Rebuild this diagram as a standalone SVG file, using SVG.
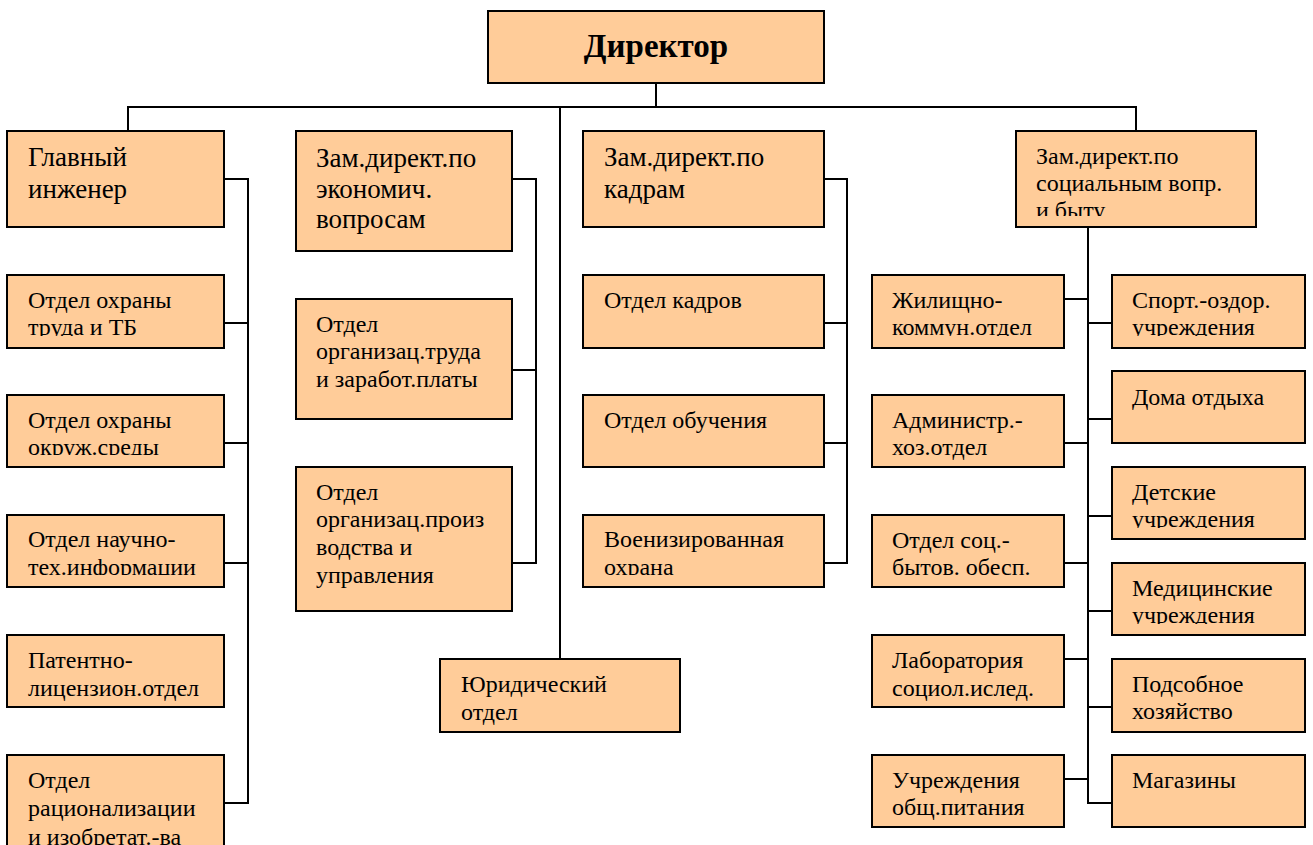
<svg xmlns="http://www.w3.org/2000/svg" width="1313" height="845" viewBox="0 0 1313 845">
  <style>
    .box { fill: #FFCC99; stroke: #000; stroke-width: 2; }
    .t { font-family: "Liberation Serif", "Times New Roman", serif; font-size: 24px; fill: #000; }
    .big { font-size: 27px; }
    .title { font-family: "Liberation Serif", "Times New Roman", serif; font-size: 33px; font-weight: bold; fill: #000; }
    .ln { fill: none; stroke: #000; stroke-width: 2; }
  </style>
  <defs>
    <clipPath id="c-okr"><rect x="7" y="395" width="217" height="60"/></clipPath>
    <clipPath id="c-trud"><rect x="7" y="275" width="217" height="61"/></clipPath>
    <clipPath id="c-nti"><rect x="7" y="515" width="217" height="60"/></clipPath>
    <clipPath id="c-voen"><rect x="583" y="515" width="241" height="60"/></clipPath>
    <clipPath id="c-soc"><rect x="1016" y="131" width="240" height="85"/></clipPath>
    <clipPath id="c-zhk"><rect x="872" y="275" width="192" height="61"/></clipPath>
    <clipPath id="c-sport"><rect x="1112" y="275" width="193" height="61"/></clipPath>
    <clipPath id="c-det"><rect x="1112" y="467" width="193" height="61"/></clipPath>
    <clipPath id="c-med"><rect x="1112" y="563" width="193" height="61"/></clipPath>
  </defs>
  <rect width="1313" height="845" fill="#fff"/>

  <!-- connectors -->
  <g id="connectors" class="ln">
    <!-- director to top bus -->
    <polyline points="656,83 656,107"/>
    <polyline points="128,131 128,107 1136,107 1136,131"/>
    <polyline points="560,107 560,659"/>
    <!-- chief engineer branch -->
    <polyline points="224,179 248,179 248,803 224,803"/>
    <line x1="224" y1="323" x2="248" y2="323"/>
    <line x1="224" y1="443" x2="248" y2="443"/>
    <line x1="224" y1="563" x2="248" y2="563"/>
    <!-- economics branch -->
    <polyline points="512,179 536,179 536,563 512,563"/>
    <line x1="512" y1="370" x2="536" y2="370"/>
    <!-- personnel branch -->
    <polyline points="824,179 847,179 847,563 824,563"/>
    <line x1="824" y1="323" x2="847" y2="323"/>
    <line x1="824" y1="443" x2="847" y2="443"/>
    <!-- social branch -->
    <polyline points="1088,227 1088,803 1112,803"/>
    <line x1="1064" y1="299" x2="1088" y2="299"/>
    <line x1="1064" y1="443" x2="1088" y2="443"/>
    <line x1="1064" y1="563" x2="1088" y2="563"/>
    <line x1="1064" y1="659" x2="1088" y2="659"/>
    <line x1="1064" y1="779" x2="1088" y2="779"/>
    <line x1="1088" y1="323" x2="1112" y2="323"/>
    <line x1="1088" y1="419" x2="1112" y2="419"/>
    <line x1="1088" y1="516" x2="1112" y2="516"/>
    <line x1="1088" y1="611" x2="1112" y2="611"/>
    <line x1="1088" y1="707" x2="1112" y2="707"/>
  </g>

  <g id="director">
    <rect class="box" x="488" y="11" width="336" height="72"/>
    <text class="title" x="656" y="57" text-anchor="middle">Директор</text>
  </g>

  <!-- chief engineer column -->
  <g id="chief-engineer">
    <rect class="box" x="7" y="131" width="217" height="96"/>
    <text class="t big" x="28" y="166">Главный</text>
    <text class="t big" x="28" y="198">инженер</text>
  </g>
  <g id="labour-safety">
    <rect class="box" x="7" y="275" width="217" height="73"/>
    <g clip-path="url(#c-trud)">
      <text class="t" x="28" y="308">Отдел охраны</text>
      <text class="t" x="28" y="335">труда и ТБ</text>
    </g>
  </g>
  <g id="environment">
    <rect class="box" x="7" y="395" width="217" height="72"/>
    <g clip-path="url(#c-okr)">
      <text class="t" x="28" y="428">Отдел охраны</text>
      <text class="t" x="28" y="455">окруж.среды</text>
    </g>
  </g>
  <g id="sci-tech-info">
    <rect class="box" x="7" y="515" width="217" height="72"/>
    <g clip-path="url(#c-nti)">
      <text class="t" x="28" y="547">Отдел научно-</text>
      <text class="t" x="28" y="575">тех.информации</text>
    </g>
  </g>
  <g id="patent">
    <rect class="box" x="7" y="635" width="217" height="72"/>
    <text class="t" x="28" y="668">Патентно-</text>
    <text class="t" x="28" y="696">лицензион.отдел</text>
  </g>
  <g id="rationalization">
    <rect class="box" x="7" y="755" width="217" height="100"/>
    <text class="t" x="28" y="788">Отдел</text>
    <text class="t" x="28" y="816">рационализации</text>
    <text class="t" x="28" y="845">и изобретат.-ва</text>
  </g>

  <!-- economics column -->
  <g id="deputy-economics">
    <rect class="box" x="296" y="131" width="216" height="120"/>
    <text class="t big" x="316" y="167">Зам.директ.по</text>
    <text class="t big" x="316" y="198">экономич.</text>
    <text class="t big" x="316" y="228">вопросам</text>
  </g>
  <g id="labour-wages">
    <rect class="box" x="296" y="299" width="216" height="120"/>
    <text class="t" x="316" y="332">Отдел</text>
    <text class="t" x="316" y="359">организац.труда</text>
    <text class="t" x="316" y="387">и заработ.платы</text>
  </g>
  <g id="production-org">
    <rect class="box" x="296" y="467" width="216" height="144"/>
    <text class="t" x="316" y="500">Отдел</text>
    <text class="t" x="316" y="527">организац.произ</text>
    <text class="t" x="316" y="555">водства и</text>
    <text class="t" x="316" y="583">управления</text>
  </g>

  <g id="legal">
    <rect class="box" x="440" y="659" width="240" height="73"/>
    <text class="t" x="461" y="692">Юридический</text>
    <text class="t" x="461" y="720">отдел</text>
  </g>

  <!-- personnel column -->
  <g id="deputy-personnel">
    <rect class="box" x="583" y="131" width="241" height="96"/>
    <text class="t big" x="604" y="166">Зам.директ.по</text>
    <text class="t big" x="604" y="198">кадрам</text>
  </g>
  <g id="hr">
    <rect class="box" x="583" y="275" width="241" height="73"/>
    <text class="t" x="604" y="308">Отдел кадров</text>
  </g>
  <g id="training">
    <rect class="box" x="583" y="395" width="241" height="72"/>
    <text class="t" x="604" y="428">Отдел обучения</text>
  </g>
  <g id="security">
    <rect class="box" x="583" y="515" width="241" height="72"/>
    <g clip-path="url(#c-voen)">
      <text class="t" x="604" y="547">Военизированная</text>
      <text class="t" x="604" y="575">охрана</text>
    </g>
  </g>

  <!-- social column -->
  <g id="deputy-social">
    <rect class="box" x="1016" y="131" width="240" height="96"/>
    <g clip-path="url(#c-soc)">
      <text class="t" x="1036" y="164">Зам.директ.по</text>
      <text class="t" x="1036" y="191">социальным вопр.</text>
      <text class="t" x="1036" y="218">и быту</text>
    </g>
  </g>
  <g id="housing">
    <rect class="box" x="872" y="275" width="192" height="73"/>
    <g clip-path="url(#c-zhk)">
      <text class="t" x="892" y="308">Жилищно-</text>
      <text class="t" x="892" y="335">коммун.отдел</text>
    </g>
  </g>
  <g id="admin">
    <rect class="box" x="872" y="395" width="192" height="72"/>
    <text class="t" x="892" y="428">Администр.-</text>
    <text class="t" x="892" y="455">хоз.отдел</text>
  </g>
  <g id="social-support">
    <rect class="box" x="872" y="515" width="192" height="72"/>
    <text class="t" x="892" y="548">Отдел соц.-</text>
    <text class="t" x="892" y="575">бытов. обесп.</text>
  </g>
  <g id="sociology-lab">
    <rect class="box" x="872" y="635" width="192" height="72"/>
    <text class="t" x="892" y="668">Лаборатория</text>
    <text class="t" x="892" y="696">социол.ислед.</text>
  </g>
  <g id="catering">
    <rect class="box" x="872" y="755" width="192" height="72"/>
    <text class="t" x="892" y="788">Учреждения</text>
    <text class="t" x="892" y="815">общ.питания</text>
  </g>
  <g id="sports">
    <rect class="box" x="1112" y="275" width="193" height="73"/>
    <g clip-path="url(#c-sport)">
      <text class="t" x="1132" y="308">Спорт.-оздор.</text>
      <text class="t" x="1132" y="335">учреждения</text>
    </g>
  </g>
  <g id="rest-homes">
    <rect class="box" x="1112" y="371" width="193" height="72"/>
    <text class="t" x="1132" y="405">Дома отдыха</text>
  </g>
  <g id="children">
    <rect class="box" x="1112" y="467" width="193" height="72"/>
    <g clip-path="url(#c-det)">
      <text class="t" x="1132" y="500">Детские</text>
      <text class="t" x="1132" y="527">учреждения</text>
    </g>
  </g>
  <g id="medical">
    <rect class="box" x="1112" y="563" width="193" height="72"/>
    <g clip-path="url(#c-med)">
      <text class="t" x="1132" y="596">Медицинские</text>
      <text class="t" x="1132" y="623">учреждения</text>
    </g>
  </g>
  <g id="farm">
    <rect class="box" x="1112" y="659" width="193" height="73"/>
    <text class="t" x="1132" y="692">Подсобное</text>
    <text class="t" x="1132" y="719">хозяйство</text>
  </g>
  <g id="shops">
    <rect class="box" x="1112" y="755" width="193" height="72"/>
    <text class="t" x="1132" y="788">Магазины</text>
  </g>
</svg>
